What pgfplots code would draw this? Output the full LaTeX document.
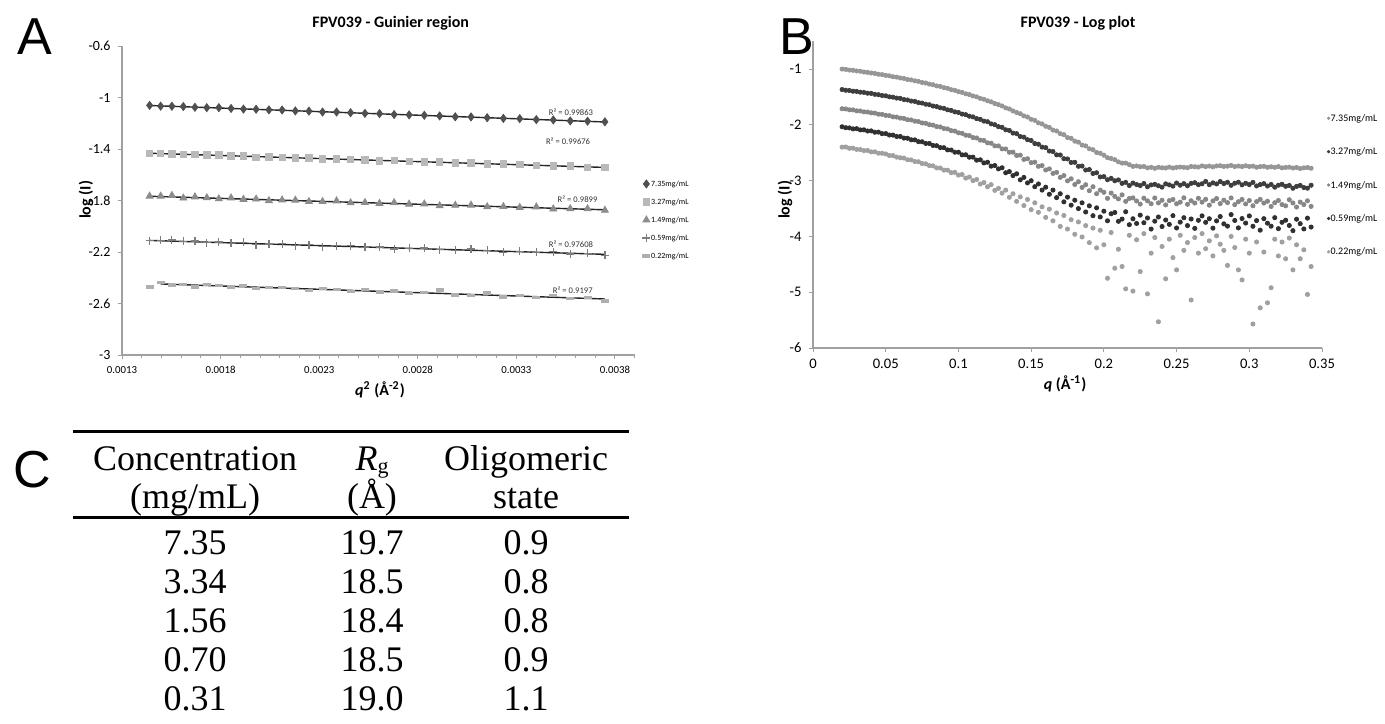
\documentclass[border=0pt]{standalone}
\usepackage{fontspec}
\setmainfont{Carlito}
\newfontfamily\arialfont{Liberation Sans}
\newfontfamily\timesfont{Liberation Serif}
\usepackage{pgfplots}
\usepackage{pgfplotstable}
\pgfplotsset{compat=1.18}

\definecolor{axgray}{RGB}{160,160,160}
\definecolor{sdia}{RGB}{80,80,80}
\definecolor{ssq}{RGB}{185,185,185}
\definecolor{stri}{RGB}{140,140,140}
\definecolor{splus}{RGB}{125,125,125}
\definecolor{sdash}{RGB}{175,175,175}
\definecolor{bone}{RGB}{150,150,150}
\definecolor{btwo}{RGB}{62,62,62}
\definecolor{bthree}{RGB}{135,135,135}
\definecolor{bfour}{RGB}{48,48,48}
\definecolor{bfive}{RGB}{160,160,160}

% Guinier region: q^2, log I for the five concentrations
\pgfplotstableread{
q2 a1 a2 a3 a4 a5
0.001440 -1.061 -1.435 -1.766 -2.112 -2.471
0.001496 -1.067 -1.432 -1.766 -2.108 -2.437
0.001553 -1.068 -1.437 -1.761 -2.106 -2.459
0.001611 -1.070 -1.444 -1.781 -2.117 -2.450
0.001670 -1.076 -1.442 -1.772 -2.115 -2.472
0.001730 -1.079 -1.447 -1.779 -2.129 -2.451
0.001791 -1.079 -1.446 -1.787 -2.123 -2.463
0.001853 -1.085 -1.455 -1.780 -2.132 -2.472
0.001916 -1.090 -1.455 -1.791 -2.124 -2.458
0.001980 -1.091 -1.463 -1.789 -2.142 -2.484
0.002045 -1.096 -1.460 -1.801 -2.138 -2.473
0.002112 -1.097 -1.465 -1.796 -2.136 -2.473
0.002179 -1.104 -1.470 -1.797 -2.150 -2.486
0.002248 -1.106 -1.468 -1.808 -2.144 -2.501
0.002317 -1.113 -1.478 -1.808 -2.159 -2.481
0.002388 -1.113 -1.477 -1.803 -2.152 -2.493
0.002459 -1.118 -1.480 -1.818 -2.151 -2.507
0.002532 -1.123 -1.486 -1.816 -2.162 -2.489
0.002606 -1.125 -1.492 -1.823 -2.161 -2.511
0.002680 -1.132 -1.489 -1.817 -2.176 -2.503
0.002756 -1.135 -1.496 -1.828 -2.171 -2.525
0.002833 -1.138 -1.501 -1.827 -2.169 -2.513
0.002911 -1.143 -1.499 -1.841 -2.182 -2.495
0.002990 -1.150 -1.508 -1.837 -2.188 -2.534
0.003070 -1.151 -1.509 -1.836 -2.177 -2.535
0.003152 -1.157 -1.517 -1.849 -2.188 -2.519
0.003234 -1.162 -1.517 -1.847 -2.201 -2.549
0.003317 -1.164 -1.520 -1.854 -2.194 -2.540
0.003401 -1.172 -1.528 -1.850 -2.203 -2.553
0.003487 -1.174 -1.530 -1.866 -2.198 -2.539
0.003573 -1.182 -1.531 -1.864 -2.215 -2.559
0.003661 -1.184 -1.542 -1.864 -2.211 -2.553
0.003749 -1.189 -1.542 -1.876 -2.227 -2.580
}\guinier

% Log plot: q, log I for the five concentrations
\pgfplotstableread{
q s1 s2 s3 s4 s5
0.0200 -1.001 -1.368 -1.712 -2.035 -2.400
0.0225 -1.006 -1.381 -1.716 -2.052 -2.398
0.0250 -1.019 -1.385 -1.731 -2.055 -2.421
0.0275 -1.023 -1.398 -1.733 -2.072 -2.419
0.0300 -1.035 -1.401 -1.749 -2.069 -2.441
0.0325 -1.040 -1.415 -1.752 -2.091 -2.443
0.0350 -1.054 -1.420 -1.768 -2.090 -2.462
0.0375 -1.060 -1.434 -1.771 -2.111 -2.460
0.0400 -1.072 -1.437 -1.786 -2.109 -2.485
0.0425 -1.079 -1.454 -1.790 -2.133 -2.484
0.0450 -1.094 -1.460 -1.810 -2.131 -2.509
0.0475 -1.100 -1.475 -1.813 -2.158 -2.510
0.0500 -1.114 -1.480 -1.831 -2.157 -2.522
0.0525 -1.122 -1.498 -1.836 -2.183 -2.550
0.0550 -1.138 -1.505 -1.857 -2.184 -2.551
0.0575 -1.145 -1.521 -1.861 -2.209 -2.579
0.0600 -1.160 -1.527 -1.880 -2.209 -2.590
0.0625 -1.169 -1.547 -1.886 -2.238 -2.595
0.0650 -1.187 -1.555 -1.909 -2.241 -2.626
0.0675 -1.195 -1.574 -1.913 -2.268 -2.629
0.0700 -1.212 -1.581 -1.935 -2.270 -2.658
0.0725 -1.222 -1.602 -1.942 -2.301 -2.662
0.0750 -1.242 -1.611 -1.967 -2.304 -2.694
0.0775 -1.251 -1.631 -1.973 -2.334 -2.699
0.0800 -1.270 -1.640 -1.997 -2.335 -2.731
0.0825 -1.281 -1.663 -2.005 -2.370 -2.735
0.0850 -1.303 -1.673 -2.031 -2.374 -2.772
0.0875 -1.312 -1.695 -2.038 -2.408 -2.774
0.0900 -1.334 -1.705 -2.066 -2.410 -2.812
0.0925 -1.346 -1.731 -2.074 -2.449 -2.813
0.0950 -1.370 -1.742 -2.104 -2.452 -2.857
0.0975 -1.382 -1.768 -2.112 -2.491 -2.851
0.1000 -1.405 -1.779 -2.143 -2.491 -2.901
0.1025 -1.419 -1.807 -2.152 -2.538 -2.890
0.1050 -1.444 -1.818 -2.186 -2.537 -2.955
0.1075 -1.458 -1.846 -2.193 -2.581 -2.937
0.1100 -1.483 -1.858 -2.228 -2.579 -3.001
0.1125 -1.499 -1.889 -2.236 -2.634 -2.980
0.1150 -1.527 -1.902 -2.275 -2.627 -3.061
0.1175 -1.542 -1.934 -2.281 -2.683 -3.035
0.1200 -1.569 -1.944 -2.323 -2.671 -3.110
0.1225 -1.588 -1.983 -2.330 -2.741 -3.072
0.1250 -1.619 -1.998 -2.377 -2.730 -3.175
0.1275 -1.637 -2.033 -2.378 -2.790 -3.140
0.1300 -1.662 -2.045 -2.431 -2.770 -3.224
0.1325 -1.697 -2.089 -2.433 -2.859 -3.170
0.1350 -1.716 -2.101 -2.492 -2.838 -3.299
0.1375 -1.752 -2.148 -2.490 -2.910 -3.236
0.1400 -1.779 -2.158 -2.549 -2.878 -3.372
0.1425 -1.801 -2.209 -2.544 -2.986 -3.291
0.1450 -1.841 -2.221 -2.620 -2.942 -3.447
0.1475 -1.860 -2.266 -2.608 -3.041 -3.338
0.1500 -1.902 -2.281 -2.678 -3.002 -3.520
0.1525 -1.920 -2.336 -2.670 -3.109 -3.398
0.1550 -1.965 -2.348 -2.744 -3.060 -3.569
0.1575 -1.984 -2.399 -2.731 -3.170 -3.470
0.1600 -2.026 -2.409 -2.809 -3.118 -3.660
0.1625 -2.047 -2.470 -2.790 -3.245 -3.512
0.1650 -2.094 -2.479 -2.871 -3.170 -3.721
0.1675 -2.111 -2.538 -2.852 -3.305 -3.580
0.1700 -2.158 -2.541 -2.942 -3.236 -3.821
0.1725 -2.177 -2.607 -2.910 -3.381 -3.625
0.1750 -2.228 -2.612 -3.004 -3.296 -3.868
0.1775 -2.243 -2.675 -2.968 -3.440 -3.700
0.1800 -2.293 -2.672 -3.069 -3.351 -3.962
0.1825 -2.311 -2.744 -3.020 -3.501 -3.741
0.1850 -2.363 -2.739 -3.122 -3.398 -4.010
0.1875 -2.378 -2.810 -3.074 -3.562 -3.806
0.1900 -2.429 -2.801 -3.181 -3.452 -4.112
0.1925 -2.446 -2.872 -3.110 -3.629 -3.851
0.1950 -2.496 -2.859 -3.235 -3.488 -4.205
0.1975 -2.510 -2.934 -3.170 -3.651 -3.890
0.2000 -2.545 -2.928 -3.209 -3.548 -4.150
0.2025 -2.589 -2.984 -3.318 -3.720 -4.750
0.2050 -2.604 -2.960 -3.223 -3.594 -3.930
0.2075 -2.625 -3.003 -3.283 -3.571 -4.570
0.2100 -2.664 -2.988 -3.328 -3.730 -4.230
0.2125 -2.686 -3.049 -3.255 -3.689 -4.540
0.2150 -2.686 -3.032 -3.372 -3.558 -4.940
0.2175 -2.714 -3.089 -3.320 -3.790 -3.980
0.2200 -2.745 -3.044 -3.310 -3.684 -4.980
0.2225 -2.737 -3.070 -3.365 -3.768 -4.060
0.2250 -2.751 -3.089 -3.421 -3.619 -4.630
0.2275 -2.747 -3.052 -3.315 -3.755 -3.950
0.2300 -2.771 -3.110 -3.363 -3.670 -5.030
0.2325 -2.762 -3.078 -3.415 -3.868 -4.300
0.2350 -2.779 -3.067 -3.312 -3.727 -4.020
0.2375 -2.762 -3.092 -3.399 -3.652 -5.530
0.2400 -2.770 -3.117 -3.352 -3.823 -4.180
0.2425 -2.774 -3.058 -3.436 -3.706 -4.760
0.2450 -2.758 -3.076 -3.359 -3.784 -4.050
0.2475 -2.774 -3.099 -3.338 -3.628 -4.380
0.2500 -2.763 -3.043 -3.415 -3.849 -4.600
0.2525 -2.757 -3.082 -3.386 -3.744 -3.980
0.2550 -2.762 -3.054 -3.308 -3.665 -4.250
0.2575 -2.769 -3.092 -3.425 -3.806 -4.110
0.2600 -2.747 -3.050 -3.361 -3.688 -5.140
0.2625 -2.752 -3.037 -3.402 -3.856 -4.020
0.2650 -2.757 -3.073 -3.317 -3.712 -4.300
0.2675 -2.737 -3.057 -3.385 -3.632 -3.950
0.2700 -2.749 -3.015 -3.335 -3.748 -4.220
0.2725 -2.739 -3.073 -3.440 -3.683 -4.080
0.2750 -2.753 -3.041 -3.363 -3.852 -4.350
0.2775 -2.737 -3.060 -3.321 -3.722 -3.990
0.2800 -2.733 -3.017 -3.412 -3.644 -4.140
0.2825 -2.746 -3.053 -3.350 -3.775 -4.250
0.2850 -2.741 -3.030 -3.394 -3.816 -4.520
0.2875 -2.728 -3.084 -3.311 -3.609 -4.000
0.2900 -2.748 -3.047 -3.431 -3.714 -4.200
0.2925 -2.739 -3.029 -3.378 -3.847 -4.600
0.2950 -2.748 -3.076 -3.338 -3.680 -4.780
0.2975 -2.734 -3.048 -3.418 -3.761 -4.050
0.3000 -2.747 -3.071 -3.357 -3.633 -4.300
0.3025 -2.741 -3.032 -3.451 -3.818 -5.570
0.3050 -2.761 -3.096 -3.376 -3.716 -4.100
0.3075 -2.749 -3.071 -3.337 -3.888 -5.280
0.3100 -2.744 -3.054 -3.402 -3.682 -4.280
0.3125 -2.761 -3.097 -3.370 -3.763 -5.190
0.3150 -2.752 -3.069 -3.463 -3.817 -4.920
0.3175 -2.762 -3.118 -3.396 -3.664 -4.050
0.3200 -2.749 -3.083 -3.356 -3.861 -4.350
0.3225 -2.772 -3.066 -3.429 -3.747 -4.100
0.3250 -2.764 -3.102 -3.452 -3.710 -4.400
0.3275 -2.759 -3.087 -3.343 -3.804 -4.030
0.3300 -2.774 -3.137 -3.401 -3.897 -4.600
0.3325 -2.765 -3.104 -3.474 -3.692 -4.150
0.3350 -2.783 -3.086 -3.385 -3.772 -4.400
0.3375 -2.771 -3.124 -3.430 -3.866 -4.240
0.3400 -2.765 -3.136 -3.362 -3.673 -5.040
0.3425 -2.778 -3.083 -3.462 -3.832 -4.540
}\logplot

\pgfplotsset{
  excelaxis/.style={
    scale only axis,
    axis x line*=bottom, axis y line*=left,
    axis line style={axgray, line width=0.6pt, -},
    every tick/.style={axgray, line width=0.5pt},
    tick align=outside,
    major tick length=2.2pt,
    minor tick length=1.6pt,
    /pgf/number format/assume math mode=true,
    scaled x ticks=false,
    clip=false,
    legend cell align=left,
  },
}

\begin{document}
\begin{tikzpicture}
\useasboundingbox (0,0) rectangle (692.5pt,-361.5pt);

% ---------------- panel A ----------------
\begin{axis}[excelaxis,
  at={(61pt,-177.5pt)}, anchor=south west,
  width=256.35pt, height=154.5pt,
  xmin=0.0013, xmax=0.0039, ymin=-3, ymax=-0.6,
  xtick={0.0013,0.0018,0.0023,0.0028,0.0033,0.0038},
  xticklabels={0.0013,0.0018,0.0023,0.0028,0.0033,0.0038},
  minor xtick={0.0014,0.0015,0.0016,0.0017,0.0019,0.0020,0.0021,0.0022,0.0024,0.0025,0.0026,0.0027,0.0029,0.0030,0.0031,0.0032,0.0034,0.0035,0.0036,0.0037,0.0039},
  ytick={-3,-2.6,-2.2,-1.8,-1.4,-1,-0.6},
  xticklabel style={font=\fontsize{5.4}{6}\selectfont},
  yticklabel style={font=\fontsize{7}{8}\selectfont},
  legend style={draw=none, fill=none, at={(1.0142,0.437)}, anchor=west,
    font=\fontsize{4}{4.5}\selectfont, row sep=4.6pt, inner sep=0pt,
    nodes={inner sep=0.4pt, text height=3pt, text depth=0.6pt}},
  legend image code/.code={\draw[#1] plot coordinates {(1.6pt,0pt)};},
]
  \addplot[only marks, mark=diamond*, mark size=2pt, color=sdia] table[x=q2,y=a1] {\guinier};
  \addplot[only marks, mark=square*, mark size=1.6pt, color=ssq] table[x=q2,y=a2] {\guinier};
  \addplot[only marks, mark=triangle*, mark size=2pt, color=stri] table[x=q2,y=a3] {\guinier};
  \addplot[only marks, mark=+, mark size=2pt, color=splus, mark options={line width=0.6pt}] table[x=q2,y=a4] {\guinier};
  \addplot[only marks, mark=-, mark size=2pt, color=sdash, mark options={line width=1.6pt}] table[x=q2,y=a5] {\guinier};
  \legend{7.35mg/mL, 3.27mg/mL, 1.49mg/mL, 0.59mg/mL, 0.22mg/mL}
  % linear trendlines
  \addplot[forget plot, black!85, line width=0.7pt] coordinates {(0.00144,-1.062) (0.003749,-1.190)};
  \addplot[forget plot, black!85, line width=0.7pt] coordinates {(0.00144,-1.433) (0.003749,-1.543)};
  \addplot[forget plot, black!85, line width=0.7pt] coordinates {(0.00144,-1.767) (0.003749,-1.872)};
  \addplot[forget plot, black!85, line width=0.7pt] coordinates {(0.00144,-2.110) (0.003749,-2.218)};
  \addplot[forget plot, black!85, line width=0.7pt] coordinates {(0.001496,-2.448) (0.003749,-2.565)};
  \begin{scope}[every node/.style={font=\fontsize{4.3}{5}\selectfont, text=black!80}]
    \node at (axis cs:0.003577,-1.114) {R² = 0.99863};
    \node at (axis cs:0.003562,-1.339) {R² = 0.99676};
    \node at (axis cs:0.003610,-1.791) {R² = 0.9899};
    \node at (axis cs:0.003577,-2.137) {R² = 0.97608};
    \node at (axis cs:0.003586,-2.497) {R² = 0.9197};
  \end{scope}
\end{axis}

% ---------------- panel B ----------------
\begin{axis}[excelaxis,
  at={(406.5pt,-174pt)}, anchor=south west,
  width=254.5pt, height=153.45pt,
  xmin=0, xmax=0.35, ymin=-6, ymax=-0.5,
  xtick={0,0.05,0.1,0.15,0.2,0.25,0.3,0.35},
  xticklabels={0,0.05,0.1,0.15,0.2,0.25,0.3,0.35},
  ytick={-6,-5,-4,-3,-2,-1},
  ticklabel style={font=\fontsize{7.3}{8}\selectfont},
  legend style={draw=none, fill=none, at={(1.0098,0.531)}, anchor=west,
    font=\fontsize{5}{5.5}\selectfont, row sep=11.3pt, inner sep=0pt,
    nodes={inner sep=0.4pt, text height=3.8pt, text depth=0.8pt}},
  legend image code/.code={\draw[#1, mark size=0.6pt] plot coordinates {(1pt,0pt)};},
]
  \addplot[only marks, mark=*, mark size=1.05pt, color=bone] table[x=q,y=s1] {\logplot};
  \addplot[only marks, mark=*, mark size=1.05pt, color=btwo] table[x=q,y=s2] {\logplot};
  \addplot[only marks, mark=*, mark size=1.05pt, color=bthree] table[x=q,y=s3] {\logplot};
  \addplot[only marks, mark=*, mark size=1.05pt, color=bfour] table[x=q,y=s4] {\logplot};
  \addplot[only marks, mark=*, mark size=1.05pt, color=bfive] table[x=q,y=s5] {\logplot};
  \legend{7.35mg/mL, 3.27mg/mL, 1.49mg/mL, 0.59mg/mL, 0.22mg/mL}
\end{axis}

% ---------------- titles and labels ----------------
\node[font=\fontsize{8}{9}\selectfont\bfseries] at (195.35pt,-11.5pt) {FPV039 - Guinier region};
\node[font=\fontsize{8}{9}\selectfont\bfseries] at (539pt,-11.5pt) {FPV039 - Log plot};
\node[font=\fontsize{8}{9}\selectfont\bfseries, rotate=90] at (43pt,-100pt) {log (I)};
\node[font=\fontsize{8}{9}\selectfont\bfseries, rotate=90] at (392.5pt,-100pt) {log (I)};
\node[font=\fontsize{8}{9}\selectfont\bfseries] at (190pt,-195pt) {\textit{q}\textsuperscript{2} (Å\textsuperscript{-2})};
\node[font=\fontsize{8}{9}\selectfont\bfseries] at (532.5pt,-192pt) {\textit{q} (Å\textsuperscript{-1})};

\node[font=\arialfont\fontsize{26}{28}\selectfont] at (17.5pt,-18.5pt) {A};
\node[font=\arialfont\fontsize{26}{28}\selectfont] at (398.5pt,-18.5pt) {B};
\node[font=\arialfont\fontsize{26}{28}\selectfont] at (16pt,-235pt) {C};

% ---------------- panel C table ----------------
\draw[line width=1.5pt] (36.5pt,-215.5pt) -- (314.5pt,-215.5pt);
\draw[line width=1.5pt] (36.5pt,-258.5pt) -- (314.5pt,-258.5pt);
\begin{scope}[every node/.style={font=\timesfont\fontsize{18}{20}\selectfont, anchor=base, inner sep=0pt}]
  \node at (97.5pt,-235pt) {Concentration};
  \node at (97.5pt,-254pt) {(mg/mL)};
  \node at (186pt,-235pt) {\textit{R}\raisebox{-1.5pt}{\fontsize{11}{11}\selectfont g}};
  \node at (186pt,-254pt) {(Å)};
  \node at (263pt,-235pt) {Oligomeric};
  \node at (263pt,-254pt) {state};
  \node at (97.5pt,-277pt) {7.35};   \node at (186pt,-277pt) {19.7};   \node at (263pt,-277pt) {0.9};
  \node at (97.5pt,-296.5pt) {3.34}; \node at (186pt,-296.5pt) {18.5}; \node at (263pt,-296.5pt) {0.8};
  \node at (97.5pt,-316pt) {1.56};   \node at (186pt,-316pt) {18.4};   \node at (263pt,-316pt) {0.8};
  \node at (97.5pt,-335.5pt) {0.70}; \node at (186pt,-335.5pt) {18.5}; \node at (263pt,-335.5pt) {0.9};
  \node at (97.5pt,-355pt) {0.31};   \node at (186pt,-355pt) {19.0};   \node at (263pt,-355pt) {1.1};
\end{scope}
\end{tikzpicture}
\end{document}
